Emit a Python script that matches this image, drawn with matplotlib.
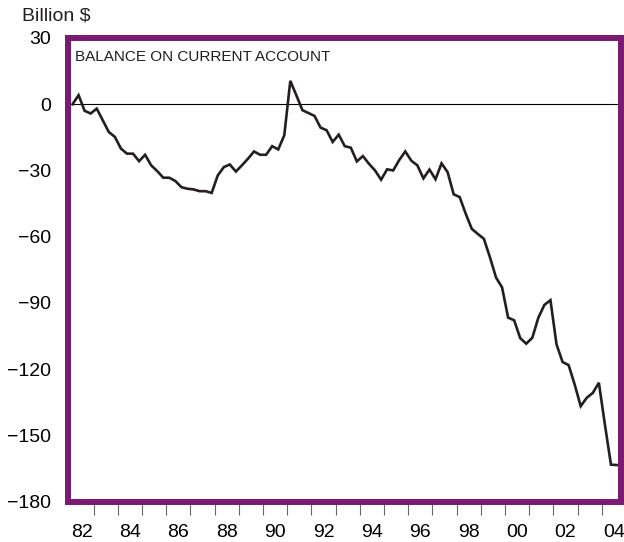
"""
Balance on current account, quarterly, 1982-2004 (billion $)
Single line inside a heavy purple frame, zero reference line.
"""
import numpy as np
import matplotlib
matplotlib.use("Agg")
import matplotlib.pyplot as plt

# ── data (quarterly, billion $) ────────────────────────────────────────────
FIRST_YEAR = 1982
BALANCE = [
    0.0, 4.1, -3.0, -4.2,            # 1982
    -2.0, -7.3, -12.6, -14.8,        # 1983
    -20.1, -22.4, -22.4, -25.8,      # 1984
    -22.9, -27.7, -30.3, -33.3,      # 1985
    -33.3, -34.8, -37.6, -38.3,      # 1986
    -38.6, -39.4, -39.4, -40.2,      # 1987
    -32.3, -28.5, -27.3, -30.5,      # 1988
    -27.7, -24.7, -21.4, -22.9,      # 1989
    -22.9, -19.0, -20.5, -14.1,      # 1990
    10.6, 4.0, -2.7, -4.0,           # 1991
    -5.3, -10.6, -11.8, -17.1,       # 1992
    -13.8, -19.0, -19.7, -25.9,      # 1993
    -23.5, -27.0, -30.0, -34.2,      # 1994
    -29.5, -30.0, -25.3, -21.4,      # 1995
    -25.6, -27.7, -33.6, -29.6,      # 1996
    -34.0, -26.8, -30.8, -40.8,      # 1997
    -42.1, -49.7, -56.5, -58.8,      # 1998
    -61.0, -69.4, -78.5, -83.0,      # 1999
    -96.7, -97.9, -106.0, -108.5,    # 2000
    -105.8, -96.7, -90.9, -88.8,     # 2001
    -108.8, -116.8, -118.2, -127.0,  # 2002
    -136.8, -133.0, -130.8, -126.2,  # 2003
    -145.2, -163.3, -163.5,          # 2004 (Q1-Q3)
]
Y_TICKS = [30, 0, -30, -60, -90, -120, -150, -180]
Y_LABELS = ["30", "0", "\u221230", "\u221260", "\u221290", "\u2212120", "\u2212150", "\u2212180"]
TICK_YEARS = list(range(1983, 2005))
LABEL_YEARS = list(range(1982, 2005, 2))
X_LABELS = [f"{y % 100:02d}" for y in LABEL_YEARS]

# quarter mid-points in fractional years
qi = np.arange(len(BALANCE))
xq = FIRST_YEAR + (qi + 0.5) / 4.0

PURPLE = "#7a1a72"
FONT = "Liberation Sans"
plt.rcParams["font.family"] = [FONT, "DejaVu Sans"]

# ── figure ─────────────────────────────────────────────────────────────────
fig = plt.figure(figsize=(6.24, 5.42), dpi=100)
ax = fig.add_axes([68 / 624, 40.5 / 542, 552.5 / 624, 463.5 / 542])

ax.plot(xq, BALANCE, color="#231f20", lw=1.9, solid_joinstyle="miter", zorder=3)
ax.axhline(0, color="black", lw=0.8, zorder=2)

ax.set_xlim(1981.938, 2004.769)
ax.set_ylim(-180, 30)

# frame
for sp in ax.spines.values():
    sp.set_color(PURPLE)
    sp.set_linewidth(4.3)
    sp.set_zorder(5)

# y axis: labels on all, tick marks only on the inner values
ax.set_yticks(Y_TICKS)
ax.set_yticklabels(Y_LABELS)
ax.set_yticks([0, -30, -60, -90, -120, -150], minor=True)
ax.tick_params(axis="y", which="major", length=0, pad=12, labelsize=14)
ax.tick_params(axis="y", which="minor", length=9.4, width=0.8, color="#333333")

# x axis: tick marks at year boundaries, labels at mid-year of even years
ax.set_xticks(TICK_YEARS)
ax.set_xticklabels([""] * len(TICK_YEARS))
ax.tick_params(axis="x", which="major", length=9, width=0.8, color="#666666")
ax.set_xticks([y + 0.5 for y in LABEL_YEARS], minor=True)
ax.set_xticklabels(X_LABELS, minor=True)
ax.tick_params(axis="x", which="minor", length=0, pad=16, labelsize=14)

ax.text(0.0127, 0.959, "BALANCE ON CURRENT ACCOUNT", transform=ax.transAxes,
        fontsize=11, ha="left", va="center", color="#231f20")
fig.text(22 / 624, 1 - 16 / 542, "Billion $", fontsize=14,
         ha="left", va="center", color="#231f20")

plt.savefig("out.png", dpi=100)
plt.close()
